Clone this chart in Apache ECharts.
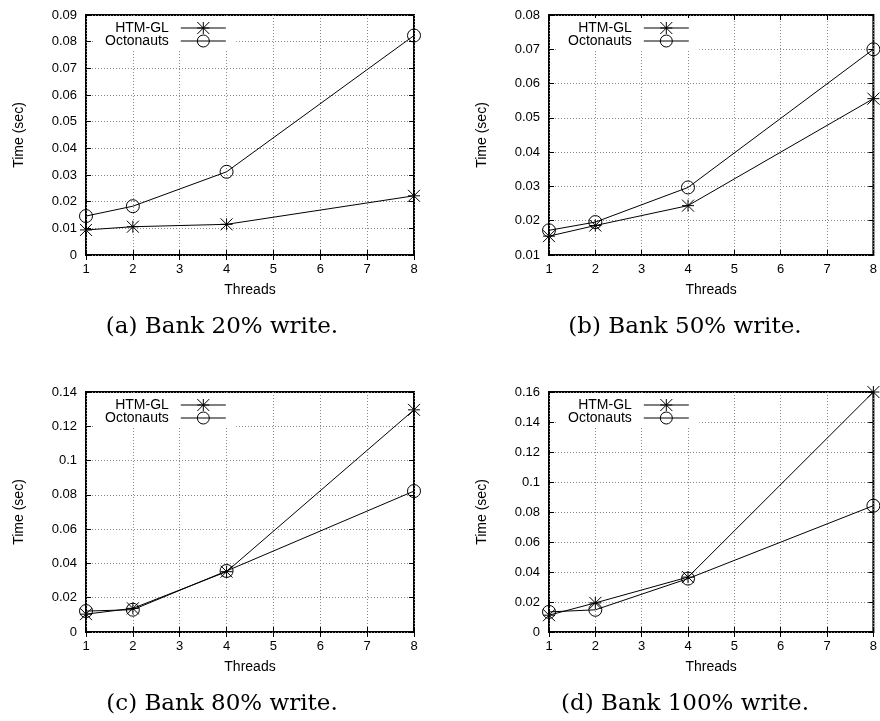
<!DOCTYPE html>
<html>
<head>
<meta charset="utf-8">
<script src="https://cdn.jsdelivr.net/npm/echarts@6/dist/echarts.min.js"></script>
<style>
  html, body { margin: 0; padding: 0; background: #fff; }
  #main { width: 880px; height: 721px; }
</style>
</head>
<body>
<div id="main"></div>
<script>
// thread counts on the x axis
const threads = [1, 2, 4, 8];
const seriesNames = ['HTM-GL', 'Octonauts'];

// time (sec)
const htm20 = [0.0094, 0.0106, 0.0115, 0.0222];
const oct20 = [0.0146, 0.0183, 0.0312, 0.0823];
const htm50 = [0.0155, 0.0186, 0.0244, 0.0556];
const oct50 = [0.0172, 0.0196, 0.0297, 0.0700];
const htm80 = [0.0104, 0.0138, 0.0352, 0.1296];
const oct80 = [0.0122, 0.0130, 0.0356, 0.0822];
const htm100 = [0.0112, 0.0194, 0.0366, 0.1600];
const oct100 = [0.0134, 0.0148, 0.0356, 0.0842];

const captions = ['(a) Bank 20% write.', '(b) Bank 50% write.', '(c) Bank 80% write.', '(d) Bank 100% write.'];

// y axis ranges per panel
const yMins = [0, 0.01, 0, 0];
const yMaxs = [0.09, 0.08, 0.14, 0.16];
const yIntervals = [0.01, 0.01, 0.02, 0.02];

const panels = [[htm20, oct20], [htm50, oct50], [htm80, oct80], [htm100, oct100]];

var chartDom = document.getElementById('main');
var myChart = echarts.init(chartDom);
var option;

const font = 'Liberation Sans';
const boxes = [
    { left: 86, top: 15 },
    { left: 549, top: 15 },
    { left: 86, top: 392 },
    { left: 549, top: 392 }
];
const W = 328, H = 240;

const starPath = 'path://M0,-10L0,10M-10,0L10,0M-10,-10L10,10M-10,10L10,-10';

const grids = [], xAxes = [], yAxes = [], series = [], legends = [], texts = [];

boxes.forEach((b, i) => {
    grids.push({
        left: b.left, top: b.top, width: W, height: H,
        show: true, borderColor: '#000', borderWidth: 2, backgroundColor: 'transparent'
    });
    // bottom / top x axes
    xAxes.push({
        type: 'value', gridIndex: i, min: 1, max: 8, interval: 1, position: 'bottom',
        name: 'Threads', nameLocation: 'middle', nameGap: 28,
        nameTextStyle: { fontFamily: font, fontSize: 14, color: '#000' },
        axisLine: { show: false },
        axisTick: { inside: true, length: 5, lineStyle: { color: '#000' } },
        axisLabel: { fontFamily: font, fontSize: 13, color: '#000', margin: 8 },
        splitLine: { show: true, lineStyle: { color: '#888', type: [1, 2], width: 1 } }
    });
    xAxes.push({
        type: 'value', gridIndex: i, min: 1, max: 8, interval: 1, position: 'top',
        axisLine: { show: false },
        axisTick: { inside: true, length: 5, lineStyle: { color: '#000' } },
        axisLabel: { show: false },
        splitLine: { show: false }
    });
    yAxes.push({
        type: 'value', gridIndex: i, min: yMins[i], max: yMaxs[i], interval: yIntervals[i], position: 'left',
        name: 'Time (sec)', nameLocation: 'middle', nameGap: 60, nameRotate: 90,
        nameTextStyle: { fontFamily: font, fontSize: 14, color: '#000' },
        axisLine: { show: false },
        axisTick: { inside: true, length: 5, lineStyle: { color: '#000' } },
        axisLabel: { fontFamily: font, fontSize: 13, color: '#000', margin: 9 },
        splitLine: { show: true, lineStyle: { color: '#888', type: [1, 2], width: 1 } }
    });
    yAxes.push({
        type: 'value', gridIndex: i, min: yMins[i], max: yMaxs[i], interval: yIntervals[i], position: 'right',
        axisLine: { show: false },
        axisTick: { inside: true, length: 5, lineStyle: { color: '#000' } },
        axisLabel: { show: false },
        splitLine: { show: false }
    });

    const [htm, oct] = panels[i];
    series.push({
        name: seriesNames[0], type: 'line', xAxisIndex: i * 2, yAxisIndex: i * 2,
        data: threads.map((t, k) => [t, htm[k]]),
        symbol: starPath, symbolSize: 12,
        lineStyle: { color: '#000', width: 1 },
        itemStyle: { color: '#000', borderColor: '#000', borderWidth: 1 },
        z: 3
    });
    series.push({
        name: seriesNames[1], type: 'line', xAxisIndex: i * 2, yAxisIndex: i * 2,
        data: threads.map((t, k) => [t, oct[k]]),
        symbol: 'circle', symbolSize: 13,
        lineStyle: { color: '#000', width: 1 },
        itemStyle: { color: 'rgba(0,0,0,0)', borderColor: '#000', borderWidth: 1 },
        z: 3
    });

    legends.push({
        data: seriesNames, orient: 'vertical', align: 'right',
        left: b.left + 7, top: b.top + 3,
        itemWidth: 45, itemHeight: 15, itemGap: -1,
        padding: [3, 10, 3, 12],
        backgroundColor: '#fff',
        selectedMode: false,
        lineStyle: { width: 1, color: '#000' },
        itemStyle: { borderWidth: 1, borderColor: '#000' },
        textStyle: { fontFamily: font, fontSize: 14, color: '#000', padding: [0, 7, 0, 0] }
    });

    texts.push({
        type: 'text',
        x: b.left + 136, y: b.top + 312,
        style: {
            text: captions[i], fill: '#000',
            font: '23px "DejaVu Serif"',
            textAlign: 'center', textVerticalAlign: 'middle'
        }
    });
});

option = {
    animation: false,
    backgroundColor: '#fff',
    grid: grids,
    xAxis: xAxes,
    yAxis: yAxes,
    legend: legends,
    series: series,
    graphic: texts
};

option && myChart.setOption(option);
</script>
</body>
</html>
